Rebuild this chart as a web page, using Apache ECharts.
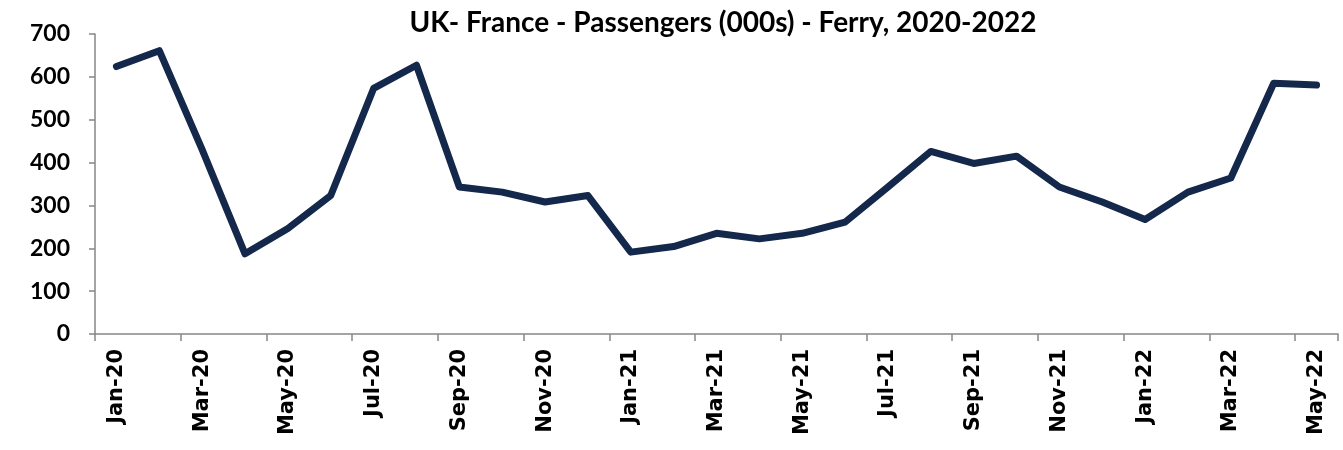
<!DOCTYPE html>
<html><head><meta charset="utf-8">
<script src="https://cdn.jsdelivr.net/npm/echarts@6/dist/echarts.min.js"></script>
<style>html,body{margin:0;padding:0;background:#fff}#c{width:1343px;height:450px}</style>
</head><body><div id="c"></div>
<script>
const categories = ["Jan-20","Feb-20","Mar-20","Apr-20","May-20","Jun-20","Jul-20","Aug-20","Sep-20","Oct-20","Nov-20","Dec-20",
"Jan-21","Feb-21","Mar-21","Apr-21","May-21","Jun-21","Jul-21","Aug-21","Sep-21","Oct-21","Nov-21","Dec-21",
"Jan-22","Feb-22","Mar-22","Apr-22","May-22"];
const passengers = [624,661,430,187,246,323,573,627,343,331,308,323,
191,204,235,222,235,261,343,426,398,415,343,308,
267,331,364,585,581];
const yTicks = {min:0, max:700, interval:100};
const titleText = "UK- France - Passengers (000s) - Ferry, 2020-2022";

const chart = echarts.init(document.getElementById('c'), null, {renderer:'canvas'});
chart.setOption({
  animation:false,
  backgroundColor:'#ffffff',
  title:{text:titleText, left:718, textAlign:'center', top:4,
    textStyle:{fontFamily:'Lato', fontWeight:'bold', fontSize:28, color:'#000'}},
  grid:{left:95, right:5, top:34, bottom:116, containLabel:false},
  xAxis:{type:'category', data:categories, boundaryGap:true,
    axisLine:{lineStyle:{color:'#868686', width:1.5}},
    axisTick:{show:true, interval:1, length:7, lineStyle:{color:'#868686', width:1.5}},
    axisLabel:{interval:1, rotate:90, margin:15, color:'#000', fontFamily:'DejaVu Sans', fontWeight:'bold', fontSize:21}},
  yAxis:{type:'value', min:yTicks.min, max:yTicks.max, interval:yTicks.interval,
    splitLine:{show:false},
    axisLine:{show:true, lineStyle:{color:'#868686', width:1.5}},
    axisTick:{show:true, length:6, lineStyle:{color:'#868686', width:1.5}},
    axisLabel:{margin:25, color:'#000', fontFamily:'Lato', fontWeight:'bold', fontSize:23}},
  series:[{type:'line', data:passengers, showSymbol:false, symbol:'none',
    lineStyle:{color:'#13284a', width:7, cap:'round', join:'round'}}]
});
</script></body></html>
